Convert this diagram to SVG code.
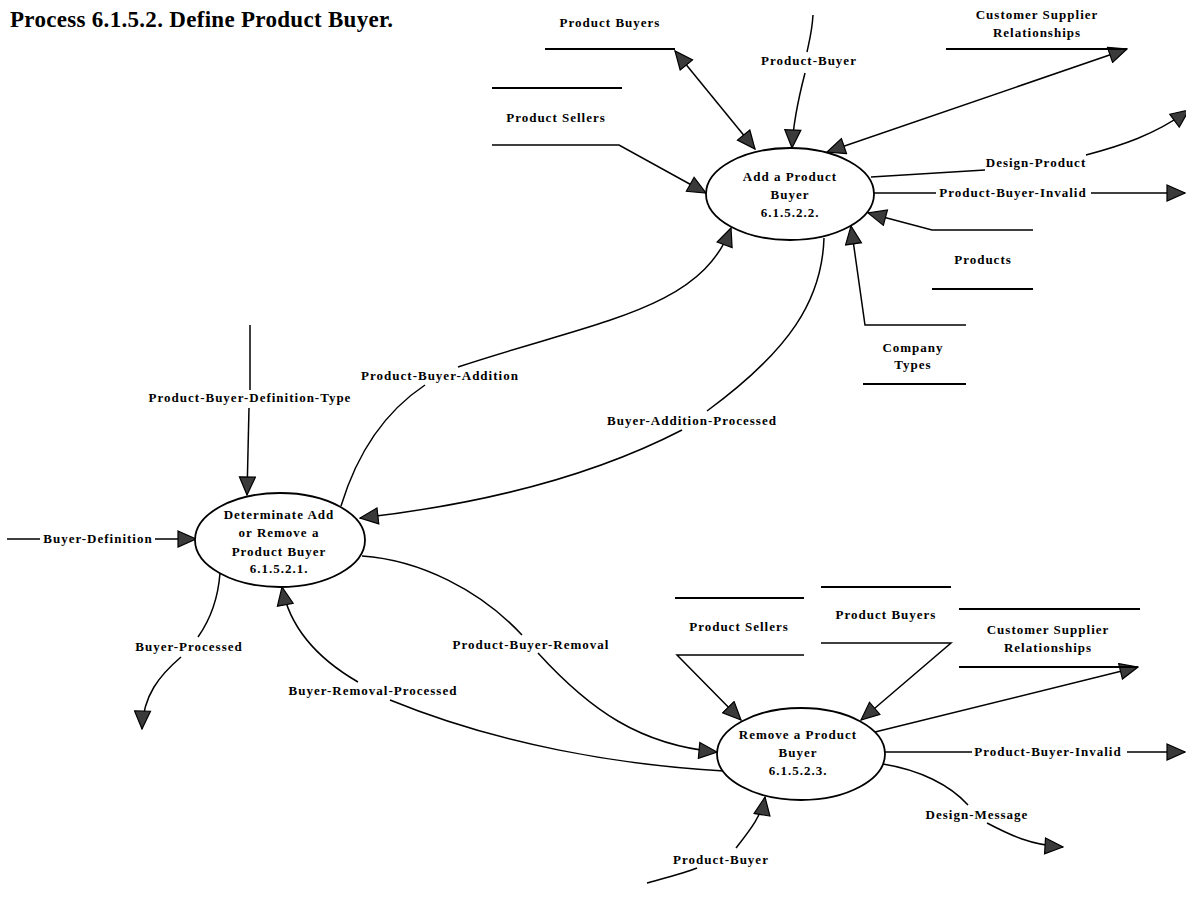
<svg xmlns="http://www.w3.org/2000/svg" width="1186" height="899" viewBox="0 0 1186 899">
  <style>
    .bg { fill: #ffffff; }
    .title { font-family: "Liberation Serif", "Times New Roman", serif; font-weight: bold; font-size: 23px; letter-spacing: 0.3px; fill: #000; }
    .lbl { font-family: "Liberation Serif", "Times New Roman", serif; font-weight: bold; font-size: 13px; letter-spacing: 1px; fill: #000; text-anchor: middle; }
    .proc { fill: #ffffff; stroke: #000; stroke-width: 1.8; }
    .store { fill: none; stroke: #000; stroke-width: 1.8; }
    .flow { fill: none; stroke: #000; stroke-width: 1.5; }
    .in { marker-end: url(#arr); }
    .both { marker-start: url(#arr); marker-end: url(#arr); }
  </style>
  <defs>
    <marker id="arr" viewBox="-1 -1 20 18" refX="18" refY="8" markerWidth="20" markerHeight="18" markerUnits="userSpaceOnUse" orient="auto-start-reverse">
      <path d="M0,0 L18,8 L0,16 z" fill="#3a3a3a" stroke="#000" stroke-width="1.2"/>
    </marker>
  </defs>

  <rect class="bg" x="0" y="0" width="1186" height="899"/>

  <text class="title" x="10" y="27">Process 6.1.5.2. Define Product Buyer.</text>

  <!-- data flows -->
  <g id="connectors">
    <!-- Product Buyers store <-> Add a Product Buyer -->
    <path class="flow both" d="M675,51 L755,149"/>
    <!-- Product Sellers store -> Add a Product Buyer -->
    <path class="flow in" d="M492,145 L619,145 L706,193"/>
    <!-- Product-Buyer (top) -->
    <path class="flow" d="M813,15 C812,32 809,42 807,52"/>
    <text class="lbl" x="809" y="65">Product-Buyer</text>
    <path class="flow in" d="M805,73 C798,100 793,125 792,148"/>
    <!-- Customer Supplier Relationships (top) <-> Add -->
    <path class="flow both" d="M827,152 L1127,49"/>
    <!-- Design-Product -->
    <path class="flow" d="M871,177 L985,170"/>
    <text class="lbl" x="1036" y="167">Design-Product</text>
    <path class="flow in" d="M1086,155 C1120,146 1155,135 1189,110"/>
    <!-- Product-Buyer-Invalid (top) -->
    <path class="flow" d="M874,193 H936"/>
    <text class="lbl" x="1013" y="197">Product-Buyer-Invalid</text>
    <path class="flow in" d="M1091,193 H1185"/>
    <!-- Products store -> Add -->
    <path class="flow in" d="M1033,230 H932 L868,213"/>
    <!-- Company Types store -> Add -->
    <path class="flow in" d="M966,325 H865 L851,226"/>
    <!-- Buyer-Addition-Processed -->
    <path class="flow" d="M824,238 C822,300 790,350 707,411"/>
    <text class="lbl" x="692" y="425">Buyer-Addition-Processed</text>
    <path class="flow in" d="M682,430 C620,462 520,500 360,518"/>
    <!-- Product-Buyer-Addition -->
    <path class="flow" d="M341,506 C355,460 380,415 425,385"/>
    <text class="lbl" x="440" y="380">Product-Buyer-Addition</text>
    <path class="flow in" d="M458,367 C600,320 700,310 731,228"/>
    <!-- Product-Buyer-Definition-Type -->
    <path class="flow" d="M250,325 V390"/>
    <text class="lbl" x="250" y="402">Product-Buyer-Definition-Type</text>
    <path class="flow in" d="M249,408 L247,495"/>
    <!-- Buyer-Definition -->
    <path class="flow" d="M7,539 H40"/>
    <text class="lbl" x="98" y="543">Buyer-Definition</text>
    <path class="flow in" d="M155,539 H196"/>
    <!-- Buyer-Processed -->
    <path class="flow" d="M220,573 C218,600 210,620 198,637"/>
    <text class="lbl" x="189" y="651">Buyer-Processed</text>
    <path class="flow in" d="M181,657 C160,675 143,695 142,729"/>
    <!-- Buyer-Removal-Processed -->
    <path class="flow" d="M724,771 C620,765 500,745 390,700"/>
    <text class="lbl" x="373" y="695">Buyer-Removal-Processed</text>
    <path class="flow in" d="M358,682 C320,660 290,630 282,587"/>
    <!-- Product-Buyer-Removal -->
    <path class="flow" d="M362,556 C420,560 480,590 522,635"/>
    <text class="lbl" x="531" y="649">Product-Buyer-Removal</text>
    <path class="flow in" d="M538,653 C590,710 640,745 717,752"/>
    <!-- Product Sellers store (bottom) -> Remove -->
    <path class="flow in" d="M804,655 H677 L741,720"/>
    <!-- Product Buyers store (bottom) -> Remove -->
    <path class="flow in" d="M821,643 H951 L861,720"/>
    <!-- Remove -> Customer Supplier Relationships (bottom) -->
    <path class="flow in" d="M875,732 L1138,667"/>
    <!-- Product-Buyer-Invalid (bottom) -->
    <path class="flow" d="M885,752 H972"/>
    <text class="lbl" x="1048" y="756">Product-Buyer-Invalid</text>
    <path class="flow in" d="M1127,752 H1185"/>
    <!-- Design-Message -->
    <path class="flow" d="M883,764 C920,770 950,785 968,805"/>
    <text class="lbl" x="977" y="819">Design-Message</text>
    <path class="flow in" d="M987,823 C1010,835 1030,845 1063,847"/>
    <!-- Product-Buyer (bottom) -->
    <path class="flow" d="M647,883 C665,878 685,873 697,868"/>
    <text class="lbl" x="721" y="864">Product-Buyer</text>
    <path class="flow in" d="M736,848 C750,830 762,815 765,797"/>
  </g>

  <!-- processes -->
  <g id="p6-1-5-2-1">
    <ellipse class="proc" cx="280" cy="540" rx="85" ry="47"/>
    <text class="lbl" x="279" y="519">Determinate Add</text>
    <text class="lbl" x="279" y="537">or Remove a</text>
    <text class="lbl" x="279" y="556">Product Buyer</text>
    <text class="lbl" x="279" y="573">6.1.5.2.1.</text>
  </g>
  <g id="p6-1-5-2-2">
    <ellipse class="proc" cx="790" cy="194" rx="84" ry="46"/>
    <text class="lbl" x="790" y="181">Add a Product</text>
    <text class="lbl" x="790" y="199">Buyer</text>
    <text class="lbl" x="790" y="217">6.1.5.2.2.</text>
  </g>
  <g id="p6-1-5-2-3">
    <ellipse class="proc" cx="801" cy="754" rx="84" ry="46"/>
    <text class="lbl" x="798" y="739">Remove a Product</text>
    <text class="lbl" x="798" y="757">Buyer</text>
    <text class="lbl" x="798" y="775">6.1.5.2.3.</text>
  </g>

  <!-- data stores -->
  <g id="store-product-buyers-top">
    <text class="lbl" x="610" y="27">Product Buyers</text>
    <path class="store" d="M545,49 H675"/>
  </g>
  <g id="store-product-sellers-top">
    <path class="store" d="M492,88 H622"/>
    <text class="lbl" x="556" y="122">Product Sellers</text>
  </g>
  <g id="store-csr-top">
    <text class="lbl" x="1037" y="19">Customer Supplier</text>
    <text class="lbl" x="1037" y="37">Relationships</text>
    <path class="store" d="M946,49 H1127"/>
  </g>
  <g id="store-products">
    <text class="lbl" x="983" y="264">Products</text>
    <path class="store" d="M932,289 H1033"/>
  </g>
  <g id="store-company-types">
    <text class="lbl" x="913" y="352">Company</text>
    <text class="lbl" x="913" y="369">Types</text>
    <path class="store" d="M863,384 H966"/>
  </g>
  <g id="store-product-sellers-bottom">
    <path class="store" d="M675,598 H804"/>
    <text class="lbl" x="739" y="631">Product Sellers</text>
  </g>
  <g id="store-product-buyers-bottom">
    <path class="store" d="M821,587 H951"/>
    <text class="lbl" x="886" y="619">Product Buyers</text>
  </g>
  <g id="store-csr-bottom">
    <path class="store" d="M959,609 H1140"/>
    <text class="lbl" x="1048" y="634">Customer Supplier</text>
    <text class="lbl" x="1048" y="652">Relationships</text>
    <path class="store" d="M959,667 H1138"/>
  </g>
</svg>
